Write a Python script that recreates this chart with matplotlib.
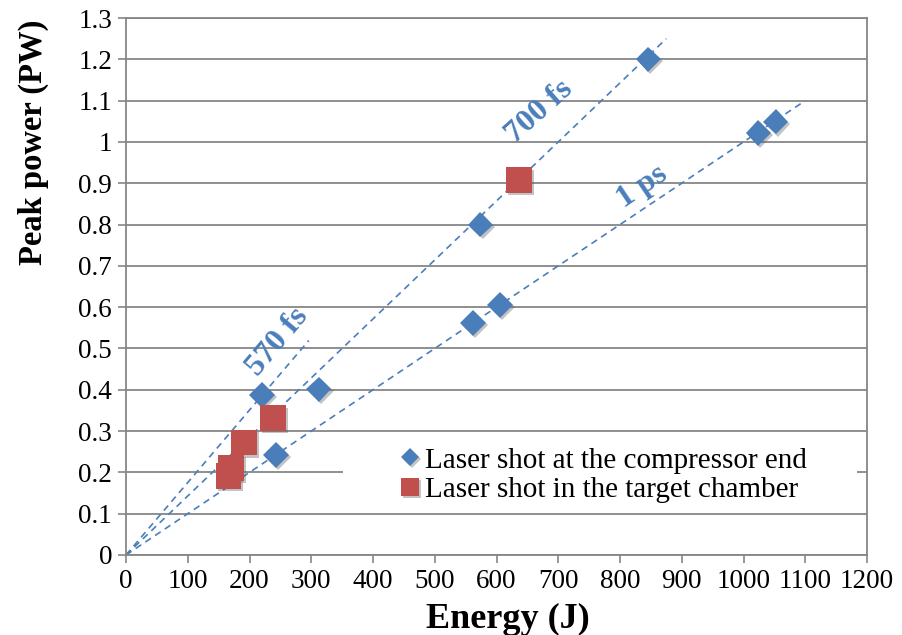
import matplotlib
matplotlib.use("Agg")
import matplotlib.pyplot as plt
import matplotlib.patheffects as pe
from matplotlib.patches import Rectangle
import numpy as np

# Measured shots
compressor_energy = [220, 312, 243, 562, 606, 574, 846, 1024, 1052]
compressor_power = [0.387, 0.401, 0.242, 0.562, 0.605, 0.800, 1.200, 1.022, 1.049]
chamber_energy = [636, 191, 238, 170, 166]
chamber_power = [0.907, 0.272, 0.331, 0.211, 0.192]

# Constant pulse-duration guides: P = E / tau
guide_labels = ["570 fs", "700 fs", "1 ps"]
guide_tau_fs = [570, 700, 1000]
guide_end_energy = [296, 875, 1100]
guide_label_pos = [(245, 0.515), (670, 1.073), (836, 0.891)]
guide_label_rot = [50, 42, 34]

x_ticks = list(range(0, 1201, 100))
y_ticks = [round(0.1 * i, 1) for i in range(14)]
y_tick_labels = ["0", "0.1", "0.2", "0.3", "0.4", "0.5", "0.6", "0.7", "0.8",
                 "0.9", "1", "1.1", "1.2", "1.3"]

BLUE = "#4A7EBB"
RED = "#C0504D"
GRID = "#868686"
SERIF = "Liberation Serif"

plt.rcParams["font.family"] = "serif"
plt.rcParams["font.serif"] = [SERIF, "DejaVu Serif"]

fig = plt.figure(figsize=(9.02, 6.35), dpi=100)
ax = fig.add_axes([126 / 902, 1 - 555 / 635, (867 - 126) / 902, (555 - 18) / 635])

ax.set_xlim(0, 1200)
ax.set_ylim(0, 1.3)
ax.set_xticks(x_ticks)
ax.set_yticks(y_ticks)
ax.set_yticklabels(y_tick_labels)
ax.tick_params(axis="both", direction="out", length=6, width=1.2, color=GRID,
               labelsize=19.5, pad=4)
for lab in ax.get_xticklabels() + ax.get_yticklabels():
    lab.set_fontfamily(SERIF)
for s in ax.spines.values():
    s.set_color(GRID)
    s.set_linewidth(1.3)
ax.yaxis.grid(True, color=GRID, linewidth=1.3, zorder=0)
ax.set_axisbelow(True)

# Guide lines
for tau, e_end, lab, pos, rot in zip(guide_tau_fs, guide_end_energy, guide_labels,
                                      guide_label_pos, guide_label_rot):
    e = np.array([0, e_end])
    ax.plot(e, e / tau, linestyle=(0, (4, 3)), color=BLUE, linewidth=1.2, zorder=2)
    ax.text(pos[0], pos[1], lab, rotation=rot, rotation_mode="anchor",
            ha="center", va="center", color=BLUE, fontsize=23,
            fontweight="bold", family=SERIF, zorder=3)

# White panel behind the legend
ax.add_patch(Rectangle((0.293, 0.085), 0.694, 0.142, transform=ax.transAxes,
                       facecolor="white", edgecolor="none", zorder=1))

shadow = [pe.SimplePatchShadow(offset=(1.5, -1.5), shadow_rgbFace="#555555", alpha=0.35),
          pe.Normal()]
h1, = ax.plot(compressor_energy, compressor_power, linestyle="none", marker="D",
              markersize=13, color=BLUE, markeredgewidth=0, zorder=4,
              label="Laser shot at the compressor end", path_effects=shadow)
h2, = ax.plot(chamber_energy, chamber_power, linestyle="none", marker="s",
              markersize=18.5, color=RED, markeredgewidth=0, zorder=4,
              label="Laser shot in the target chamber", path_effects=shadow)

leg = ax.legend(handles=[h1, h2], loc="center left",
                bbox_to_anchor=(0.352, 0.149), frameon=False,
                prop={"family": SERIF, "size": 21},
                handlelength=0.6, handletextpad=0.2, labelspacing=0.1,
                markerscale=0.7, borderpad=0)

fig.text(508 / 902, 1 - 619 / 635, "Energy (J)", ha="center", va="center",
         fontsize=26, fontweight="bold", family=SERIF)
fig.text(33 / 902, 1 - 142 / 635, "Peak power (PW)", ha="center", va="center",
         rotation=90, fontsize=23.5, fontweight="bold", family=SERIF)

fig.savefig("out.png", dpi=100)
